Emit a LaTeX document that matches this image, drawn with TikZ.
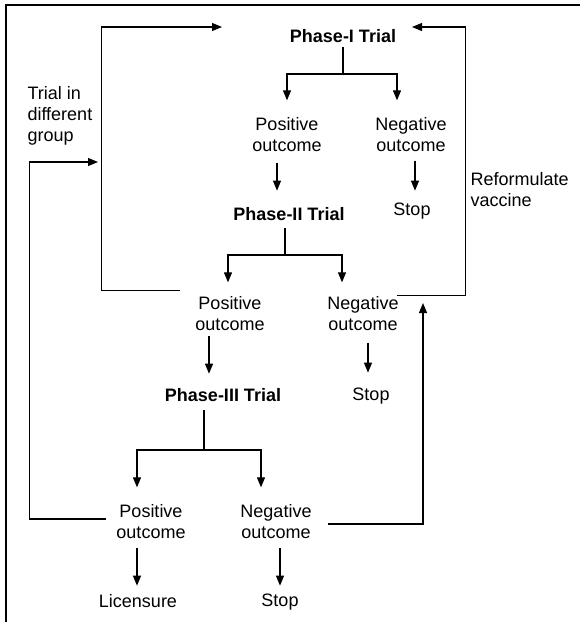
\documentclass[tikz,border=0pt]{standalone}
\usepackage{fontspec}
\setmainfont{Liberation Sans}
\usetikzlibrary{arrows.meta}
\tikzstyle{trial} = [font=\fontsize{18}{21}\selectfont\bfseries, inner sep=0pt]
\tikzstyle{outcome} = [font=\fontsize{18}{21}\selectfont, align=center, inner sep=0pt]
\tikzstyle{note} = [font=\fontsize{18}{21}\selectfont, align=left, inner sep=0pt, anchor=west]
\tikzstyle{arr} = [-{Triangle[length=10pt,width=8pt]}]

\begin{document}
\begin{tikzpicture}[x=1pt,y=-1pt,line width=1.1pt]
	\useasboundingbox (0,0) rectangle (580,622);
	
	% frame
	\draw[line width=2pt] (6,622) -- (6,5) -- (580,5);
	
	% phase I
	\node[trial] (ph1) at (343,36) {Phase-I Trial};
	\node[outcome] (pos1) at (287,135) {Positive\\outcome};
	\node[outcome] (neg1) at (411,135) {Negative\\outcome};
	\node[outcome] (stop1) at (412,211) {Stop};
	
	% phase II
	\node[trial] (ph2) at (289,214) {Phase-II Trial};
	\node[outcome] (pos2) at (230,314) {Positive\\outcome};
	\node[outcome] (neg2) at (363,314) {Negative\\outcome};
	\node[outcome] (stop2) at (371,396) {Stop};
	
	% phase III
	\node[trial] (ph3) at (223,395) {Phase-III Trial};
	\node[outcome] (pos3) at (151,522) {Positive\\outcome};
	\node[outcome] (neg3) at (276,522) {Negative\\outcome};
	\node[outcome] (lic) at (138,601) {Licensure};
	\node[outcome] (stop3) at (280,602) {Stop};
	
	% side labels
	\node[note] (group) at (27,116) {Trial in\\different\\group};
	\node[note] (reform) at (470,190) {Reformulate\\vaccine};
	
	% forks and loose ends
	\coordinate (f1) at (343,74);
	\coordinate (f2) at (285,255);
	\coordinate (f3) at (204,450);
	\coordinate (in1) at (222,27);
	\coordinate (in2) at (412,27);
	\coordinate (in3) at (98,162);
	\coordinate (in4) at (423,303);
	
	\draw[shorten <=4pt] (ph1.south) -- (f1);
	\draw[arr, shorten >=17pt] (f1) -| (pos1.north);
	\draw[arr, shorten >=17pt] (f1) -| ([xshift=-14pt]neg1.north);
	\draw[arr, shorten <=10pt] ([xshift=-10pt]pos1.south) -- ++(0,38);%pos->II
	\draw[arr, shorten <=8pt] ([xshift=4pt]neg1.south) -- ++(0,38);%neg->stop
	
	\draw[shorten <=7pt] ([xshift=-4pt]ph2.south) -- (f2);
	\draw[arr, shorten >=14pt] (f2) -| ([xshift=-2pt]pos2.north);
	\draw[arr, shorten >=14pt] (f2) -| ([xshift=-21pt]neg2.north);
	\draw[arr, shorten <=4pt] ([xshift=-21pt]pos2.south) -- ++(0,42);%pos->III
	\draw[arr, shorten <=11pt] ([xshift=5pt]neg2.south) -- ++(0,41);%neg->stop
	
	\draw[shorten <=8pt] ([xshift=-19pt]ph3.south) -- (f3);
	\draw[arr, shorten >=17pt] (f3) -| ([xshift=-14pt]pos3.north);
	\draw[arr, shorten >=17pt] (f3) -| ([xshift=-15pt]neg3.north);
	\draw[arr, shorten <=8pt] ([xshift=-14pt]pos3.south) -- ++(0,46);%licensure
	\draw[arr, shorten <=8pt] ([xshift=4pt]neg3.south) -- ++(0,46);%stop
	
	% feedback loops
	\draw[arr] ([shift={(-15,-6)}]pos2.north west) -- ++(-78,0) |- (in1);
	\draw[arr] ([shift={(-10,-3)}]pos3.west) -- ++(-76,0) |- (in3);
	\draw[arr] ([shift={(-2,-1)}]neg2.north east) -- ++(68,0) |- (in2);
	\draw[arr] ([shift={(16,2)}]neg3.east) -| (in4);
\end{tikzpicture}
\end{document}
